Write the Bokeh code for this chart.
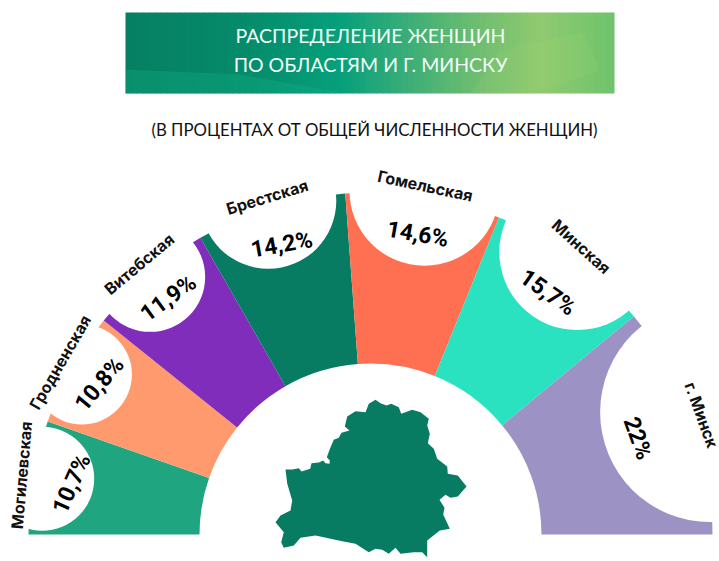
import numpy as np
from bokeh.plotting import figure
from bokeh.models import ColumnDataSource, Range1d
from bokeh.core.properties import value
from bokeh.embed import file_html
from bokeh.resources import INLINE

# --- data
regions = ["Могилевская", "Гродненская", "Витебская", "Брестская", "Гомельская", "Минская", "г. Минск"]
shares = [10.7, 10.8, 11.9, 14.2, 14.6, 15.7, 22]
value_labels = ["10,7%", "10,8%", "11,9%", "14,2%", "14,6%", "15,7%", "22%"]
title_lines = ["РАСПРЕДЕЛЕНИЕ ЖЕНЩИН", "ПО ОБЛАСТЯМ И Г. МИНСКУ"]
subtitle = "(В ПРОЦЕНТАХ ОТ ОБЩЕЙ ЧИСЛЕННОСТИ ЖЕНЩИН)"

# --- style / layout
colors = ["#1FA681", "#FF9A6E", "#802DBC", "#087C62", "#FF7052", "#2AE2C0", "#9D92C4"]
CX, CY = 370, 534           # fan centre in page pixels
R_IN, R_OUT = 171, 342
bite_dist = [333, 330, 339, 349, 348, 350, 361]
bite_rad = [52, 50, 55, 68, 75, 78, 110]
value_dist = [303, 310, 311, 303, 304, 300, 284]
value_rot = [66, 50, 36, 10, -10, -35, -70]
name_dist = [354, 355, 356, 353, 353, 357, 352]
name_rot = [85, 60, 40, 17, -12, -42, -70]
FONT_NAME = "Inter"
FONT_VALUE = "Roboto"
FONT_TEXT = "Lato"

def px(X, Y):
    return np.asarray(X, float) - CX, CY - np.asarray(Y, float)

p = figure(width=719, height=561, x_range=Range1d(0 - CX, 719 - CX), y_range=Range1d(CY - 561, CY - 0),
           output_backend="svg", toolbar_location=None, min_border=0)
p.axis.visible = False
p.grid.visible = False
p.outline_line_color = None
p.background_fill_color = "white"
p.border_fill_color = "white"

# --- banner
bx0, bx1, by0, by1 = 125, 614, 12, 93
stops_x = [125, 250, 340, 400, 470, 540, 614]
stops_c = ["#067F62", "#058C6B", "#06A07C", "#35AC78", "#6ABC70", "#90CA70", "#6EC46C"]
rgb = np.array([[int(c[i:i + 2], 16) for i in (1, 3, 5)] for c in stops_c], float)
edges = np.arange(bx0, bx1, 6)
right = np.minimum(edges + 6.5, bx1)
mid = edges + 3
cols = ["#%02x%02x%02x" % tuple(int(round(np.interp(m, stops_x, rgb[:, k]))) for k in range(3)) for m in mid]
l, t = px(edges, by0)
r, b = px(right, by1)
p.quad(left=l, right=r, top=t, bottom=b, fill_color=cols, line_color=None)
facets = [
    ([125, 240, 345, 125], [69, 74, 93, 93], "#12B684", 0.3),
    ([500, 582, 600, 530, 470], [50, 32, 70, 93, 93], "#A8D470", 0.15),
]
for fx, fy, c, a in facets:
    x_, y_ = px(fx, fy)
    p.patch(x_, y_, fill_color=c, fill_alpha=a, line_color=None)

# --- fan
vals = np.array(shares, float)
cum = np.cumsum(vals) / vals.sum() * np.pi
starts = np.pi - np.r_[0, cum[:-1]]
ends = np.pi - cum
mids = (starts + ends) / 2
p.annular_wedge(x=0, y=0, inner_radius=R_IN, outer_radius=R_OUT,
                start_angle=starts, end_angle=ends, direction="clock",
                fill_color=colors, line_color=None)
d = np.array(bite_dist, float)
p.circle(x=d * np.cos(mids), y=d * np.sin(mids), radius=bite_rad, fill_color="white", line_color=None)

# --- map outline (decorative shape)
map_x = [285, 291.7, 298.3, 301, 309.7, 311, 318.3, 322.7, 325, 329, 329.3, 326.3, 330, 333.3, 338.3, 341, 349, 344.3,
         346.7, 355, 365, 368.3, 375, 380, 386, 390.7, 398.3, 400.7, 411.7, 420, 428.3, 426.7, 429.3, 427.3, 433.3,
         436.7, 446.7, 447.3, 457.3, 466, 457.3, 450, 445, 439, 444, 442.7, 449.3, 439.3, 426.7, 426.7, 421.7, 413,
         400, 395, 388.3, 381.7, 375, 368.3, 355, 341.7, 315, 300, 293.3, 283.3, 280.7, 283.3, 275, 280, 290, 291.7, 286.7]
map_y = [469, 469, 467.7, 471, 468.3, 462.7, 462, 460, 462.7, 463.3, 460, 456.7, 446.7, 439.3, 437.3, 432.3, 430, 426,
         416, 410.7, 411.7, 403.3, 399.3, 402.7, 405, 403.3, 406.7, 413.3, 409.3, 411.7, 418.3, 425, 433.3, 442.7, 448.3,
         458.3, 466, 473.3, 475, 486, 496, 497.3, 494.3, 499.3, 507.3, 514, 528.3, 530, 540, 556.7, 551.7, 551.7,
         553.3, 547.3, 553.3, 549.3, 548.3, 551.7, 543.3, 540.7, 535, 537.3, 545, 547.3, 541.7, 531.7, 521.7, 515, 510, 500, 483]
mx, my = px(map_x, map_y)
p.patch(mx, my, fill_color="#087C62", line_color=None)

# --- labels
names = ColumnDataSource(dict(
    x=np.array(name_dist) * np.cos(mids), y=np.array(name_dist) * np.sin(mids),
    t=regions, a=np.radians(name_rot)))
p.text("x", "y", text="t", angle="a", source=names, text_font=value(FONT_NAME), text_font_size="16px",
       text_font_style="bold", text_color="#111111", text_align="center", text_baseline="middle")
nums = ColumnDataSource(dict(
    x=np.array(value_dist) * np.cos(mids), y=np.array(value_dist) * np.sin(mids),
    t=value_labels, a=np.radians(value_rot)))
p.text("x", "y", text="t", angle="a", source=nums, text_font=value(FONT_VALUE), text_font_size="23px",
       text_font_style="bold", text_color="#000000", text_align="center", text_baseline="middle")

tx, ty = px([370, 370], [35, 64])
p.text(tx, ty, text=title_lines, text_font=value(FONT_TEXT), text_font_size="19.5px", text_color="#F4FFF8",
       text_align="center", text_baseline="middle")
sx, sy = px([374], [129])
p.text(sx, sy, text=[subtitle], text_font=value(FONT_TEXT), text_font_size="16.8px", text_color="#111111",
       text_align="center", text_baseline="middle")

open("out.html", "w").write(file_html(p, INLINE))
